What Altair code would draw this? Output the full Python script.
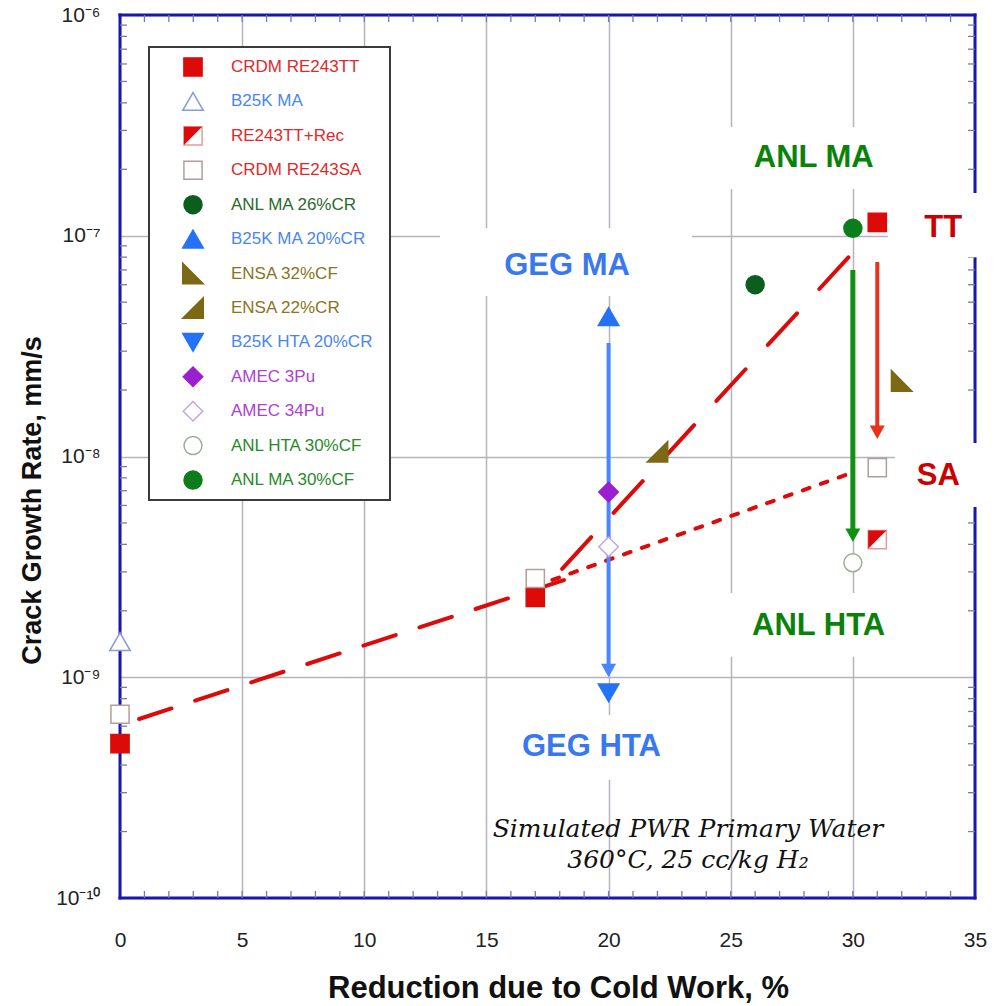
import json
import altair as alt
import pandas as pd

# ---------------------------------------------------------------- data ----
series = [
    "CRDM RE243TT", "CRDM RE243TT", "CRDM RE243TT",
    "B25K MA",
    "RE243TT+Rec",
    "CRDM RE243SA", "CRDM RE243SA", "CRDM RE243SA",
    "ANL MA 26%CR",
    "B25K MA 20%CR",
    "ENSA 32%CF",
    "ENSA 22%CR",
    "B25K HTA 20%CR",
    "AMEC 3Pu",
    "AMEC 34Pu",
    "ANL HTA 30%CF",
    "ANL MA 30%CF",
]
cold_work = [0, 17, 31, 0, 31, 0, 17, 31, 26, 20, 32, 22, 20, 20, 20, 30, 30]
cgr = [5.0e-10, 2.3e-9, 1.15e-7, 1.45e-9, 4.2e-9, 6.8e-10, 2.8e-9, 8.9e-9,
       6.0e-8, 4.3e-8, 2.2e-8, 1.05e-8, 8.5e-10, 6.9e-9, 3.9e-9, 3.3e-9, 1.08e-7]

legend_order = [
    "CRDM RE243TT", "B25K MA", "RE243TT+Rec", "CRDM RE243SA", "ANL MA 26%CR",
    "B25K MA 20%CR", "ENSA 32%CF", "ENSA 22%CR", "B25K HTA 20%CR",
    "AMEC 3Pu", "AMEC 34Pu", "ANL HTA 30%CF", "ANL MA 30%CF",
]

# trend lines (two end points each)
trend_cw_x = [0.78, 18.2]
trend_cw_y = [6.47e-10, 2.76e-9]
trend_tt_x = [18.1, 30.0]
trend_tt_y = [3.1e-9, 8.4e-8]
trend_sa_x = [17.7, 29.7]
trend_sa_y = [2.76e-9, 8.24e-9]

# arrows: from (no head) -> to (head)
arrow_name = ["GEG", "ANL", "CRDM"]
arrow_x = [20, 30, 31]
arrow_from = [3.27e-8, 7.0e-8, 7.6e-8]
arrow_to = [1.0e-9, 4.1e-9, 1.2e-8]

# callout labels
label_text = ["GEG MA", "GEG HTA", "ANL MA", "ANL HTA", "TT", "SA"]
label_x = [18.3, 19.3, 28.4, 28.6, 33.7, 33.5]
label_y = [7.3e-8, 4.83e-10, 2.25e-7, 1.7e-9, 1.08e-7, 8.2e-9]
# white backing boxes behind the callouts
box_x0 = [13.1, 15.55, 23.74, 24.36, 31.44, 31.72]
box_x1 = [23.41, 23.33, 32.95, 32.13, 36.1, 36.1]
box_y0 = [1.08e-7, 6.75e-10, 3.11e-7, 2.41e-9, 1.56e-7, 1.15e-8]
box_y1 = [5.33e-8, 3.43e-10, 1.63e-7, 1.24e-9, 8.0e-8, 5.9e-9]

note_text = ["Simulated PWR Primary Water", "360°C, 25 cc/kg H₂"]
note_x = [23.25, 23.25]
note_y = [1.89e-10, 1.37e-10]

x_ticks = [0, 5, 10, 15, 20, 25, 30, 35]
y_ticks = [1e-10, 1e-9, 1e-8, 1e-7, 1e-6]
y_tick_labels = ["10⁻¹⁰", "10⁻⁹", "10⁻⁸", "10⁻⁷", "10⁻⁶"]

# --------------------------------------------------------------- style ----
W, H = 855, 883
FRAME = "#1818b0"
GRID = "#b4b4bc"
TICK = "#7a7aa6"
RED = "#dd0a0a"
BLUE = "#2472f5"
SANS = "Liberation Sans, Arial, sans-serif"

TRI_LL = "M-1,-1L-1,1L1,1Z"     # right angle bottom-left
TRI_LR = "M-1,1L1,1L1,-1Z"      # right angle bottom-right
HALF_SQ = "M-1,-1L1,-1L-1,1Z"   # upper-left half of a square
HEAD = "M-1,-0.9L1,-0.9L0,0.9Z"

marker_style = {
    "CRDM RE243TT":   ("square", RED, RED, 330, None, "#e02a2a"),
    "B25K MA":        ("triangle-up", "white", "#8a9cd0", 420, None, "#4a86f0"),
    "RE243TT+Rec":    ("square", "white", "#e89a9a", 330, HALF_SQ, "#e02a2a"),
    "CRDM RE243SA":   ("square", "white", "#b49c9c", 330, None, "#e02a2a"),
    "ANL MA 26%CR":   ("circle", "#0b5e1e", "#0b5e1e", 324, None, "#2a6a2a"),
    "B25K MA 20%CR":  ("triangle-up", BLUE, BLUE, 420, None, "#4a86f0"),
    "ENSA 32%CF":     (TRI_LL, "#7d6814", "#7d6814", 420, None, "#8a7420"),
    "ENSA 22%CR":     (TRI_LR, "#7d6814", "#7d6814", 420, None, "#8a7420"),
    "B25K HTA 20%CR": ("triangle-down", BLUE, BLUE, 420, None, "#4a86f0"),
    "AMEC 3Pu":       ("diamond", "#9b1fd1", "#9b1fd1", 380, None, "#b040d0"),
    "AMEC 34Pu":      ("diamond", "white", "#c4a6e0", 380, None, "#b040d0"),
    "ANL HTA 30%CF":  ("circle", "white", "#98ae98", 324, None, "#2a8a2a"),
    "ANL MA 30%CF":   ("circle", "#0d7d1b", "#0d7d1b", 324, None, "#2a8a2a"),
}
arrow_style = {"GEG": ("#4a86ff", 4), "ANL": ("#109010", 5), "CRDM": ("#e8321a", 4)}
label_color = {"GEG MA": "#3a78f0", "GEG HTA": "#3a78f0", "ANL MA": "#0a820a",
               "ANL HTA": "#0a820a", "TT": "#cc0000", "SA": "#cc0000"}


def style_frame(names):
    return pd.DataFrame({
        "shape": [marker_style[n][0] for n in names],
        "fill": [marker_style[n][1] for n in names],
        "stroke": [marker_style[n][2] for n in names],
        "size": [marker_style[n][3] for n in names],
        "overlay": [marker_style[n][4] for n in names],
        "label_color": [marker_style[n][5] for n in names],
    })


points = pd.concat([pd.DataFrame({"series": series, "x": cold_work, "y": cgr}),
                    style_frame(series)], axis=1)
legend_df = pd.concat([pd.DataFrame({"label": legend_order,
                                     "row": list(range(len(legend_order)))}),
                       style_frame(legend_order)], axis=1)

xs = alt.Scale(domain=[0, 35], nice=False, zero=False)
ys = alt.Scale(type="log", domain=[1e-10, 1e-6], nice=False)

x_axis = alt.Axis(
    values=x_ticks, title="Reduction due to Cold Work, %", grid=True,
    gridColor=GRID, gridWidth=1.5, ticks=False, tickSize=0, domain=False,
    labelFont=SANS, labelFontSize=21, labelColor="#222", labelPadding=42,
    labelBaseline="middle", labelFlush=False,
    titleFont=SANS, titleFontSize=31, titleFontWeight="bold", titleColor="#111",
    titleX=438, titleY=99, titleBaseline="alphabetic",
)
y_axis = alt.Axis(
    values=y_ticks, title="Crack Growth Rate, mm/s", grid=True,
    gridColor=GRID, gridWidth=1.5, ticks=False, tickSize=0, domain=False,
    labelFont=SANS, labelFontSize=21, labelColor="#222", labelPadding=20,
    labelBaseline="middle", labelFlush=False, labelOverlap=False,
    labelExpr=json.dumps(y_tick_labels, ensure_ascii=False)
    + "[round(log(datum.value)/LN10)+10]",
    titleFont=SANS, titleFontSize=27, titleFontWeight="bold", titleColor="#111",
    titleAngle=270, titleX=-88, titleY=485, titleBaseline="middle",
)


# every layer on the shared scales carries the same axis definition
def X(field):
    return alt.X(field, scale=xs, axis=x_axis)


def Y(field):
    return alt.Y(field, scale=ys, axis=y_axis)


one = pd.DataFrame({"k": [0]})

# ------------------------------------------------------ frame and ticks ----
def frame_rule(**enc):
    return alt.Chart(one).mark_rule(color=FRAME, strokeWidth=3,
                                    strokeCap="square").encode(**enc)


frame = alt.layer(
    frame_rule(x=alt.value(0), x2=alt.value(W), y=alt.value(0)),
    frame_rule(x=alt.value(0), x2=alt.value(W), y=alt.value(H)),
    frame_rule(x=alt.value(0), y=alt.value(0), y2=alt.value(H)),
    frame_rule(x=alt.value(W), y=alt.value(0), y2=alt.value(H)),
)

minor_y = pd.DataFrame({"y": [k * 10.0 ** e for e in range(-10, -6) for k in range(2, 10)]})
minor_x = pd.DataFrame({"x": list(range(1, 35))})
tick_len = 7
ticks = alt.layer(
    alt.Chart(minor_y).mark_rule(color=TICK, strokeWidth=1.3).encode(
        y=Y("y:Q"), x=alt.value(0), x2=alt.value(tick_len)),
    alt.Chart(minor_y).mark_rule(color=TICK, strokeWidth=1.3).encode(
        y=Y("y:Q"), x=alt.value(W - tick_len), x2=alt.value(W)),
    alt.Chart(minor_x).mark_rule(color=TICK, strokeWidth=1.3).encode(
        x=X("x:Q"), y=alt.value(H - tick_len), y2=alt.value(H)),
    alt.Chart(minor_x).mark_rule(color=TICK, strokeWidth=1.3).encode(
        x=X("x:Q"), y=alt.value(0), y2=alt.value(tick_len)),
)

# ------------------------------------------------------- callout boxes ----
boxes_df = pd.DataFrame({"x0": box_x0, "x1": box_x1, "y0": box_y0, "y1": box_y1})
boxes = alt.Chart(boxes_df).mark_rect(fill="white").encode(
    x=X("x0:Q"), x2="x1:Q", y=Y("y0:Q"), y2="y1:Q",
)


# --------------------------------------------------------- trend lines ----
def trend(xv, yv, dash):
    df = pd.DataFrame({"x": xv, "y": yv})
    return alt.Chart(df).mark_line(color=RED, strokeWidth=4, strokeDash=dash,
                                   strokeCap="round").encode(x=X("x:Q"), y=Y("y:Q"))


trends = alt.layer(
    trend(trend_cw_x, trend_cw_y, [34, 25]),
    trend(trend_tt_x, trend_tt_y, [43, 33]),
    trend(trend_sa_x, trend_sa_y, [7, 12]),
)

# -------------------------------------------------------------- arrows ----
arrows_df = pd.DataFrame({
    "x": arrow_x, "y0": arrow_from, "y1": arrow_to,
    "color": [arrow_style[a][0] for a in arrow_name],
    "w": [arrow_style[a][1] for a in arrow_name],
})
shafts = alt.Chart(arrows_df).mark_rule(y2Offset=-8).encode(
    x=X("x:Q"), y=Y("y0:Q"), y2="y1:Q",
    color=alt.Color("color:N", scale=None),
    strokeWidth=alt.StrokeWidth("w:Q", scale=None),
)
heads = alt.Chart(arrows_df).mark_point(shape=HEAD, filled=True, opacity=1,
                                        size=225, yOffset=-6.75).encode(
    x=X("x:Q"), y=Y("y1:Q"),
    fill=alt.Fill("color:N", scale=None),
)

# ------------------------------------------------------------- markers ----
markers = alt.Chart(points).mark_point(filled=True, opacity=1, strokeWidth=1.5).encode(
    x=X("x:Q"), y=Y("y:Q"),
    shape=alt.Shape("shape:N", scale=None),
    fill=alt.Fill("fill:N", scale=None),
    stroke=alt.Stroke("stroke:N", scale=None),
    size=alt.Size("size:Q", scale=None),
)
marker_half = alt.Chart(points).transform_filter("datum.overlay != null").mark_point(
    filled=True, opacity=1, color=RED, strokeWidth=0).encode(
    x=X("x:Q"), y=Y("y:Q"),
    shape=alt.Shape("overlay:N", scale=None),
    size=alt.Size("size:Q", scale=None),
)

# -------------------------------------------------------------- labels ----
labels_df = pd.DataFrame({"text": label_text, "x": label_x, "y": label_y,
                          "color": [label_color[t] for t in label_text]})
labels = alt.Chart(labels_df).mark_text(font=SANS, fontWeight="bold", fontSize=31,
                                        align="center", baseline="middle").encode(
    x=X("x:Q"), y=Y("y:Q"), text="text:N",
    color=alt.Color("color:N", scale=None),
)

note_df = pd.DataFrame({"text": note_text, "x": note_x, "y": note_y})
note = alt.Chart(note_df).mark_text(font="DejaVu Serif", fontStyle="italic", fontSize=25,
                                    align="center", baseline="alphabetic",
                                    color="#111").encode(
    x=X("x:Q"), y=Y("y:Q"), text="text:N",
)

# -------------------------------------------------------------- legend ----
LEG_ROW0, LEG_STEP, LEG_SYM_X, LEG_TXT_X = 52, 34.42, 73, 111
leg_base = alt.Chart(legend_df).transform_calculate(
    ly=f"{LEG_ROW0} + datum.row * {LEG_STEP}")
legend_box = alt.Chart(one).mark_rect(fill="white", stroke="#3a3a3a", strokeWidth=2).encode(
    x=alt.value(29), x2=alt.value(270), y=alt.value(32), y2=alt.value(485))
legend_sym = leg_base.mark_point(filled=True, opacity=1, strokeWidth=1.5).encode(
    x=alt.value(LEG_SYM_X),
    y=alt.Y("ly:Q", scale=None, axis=None),
    shape=alt.Shape("shape:N", scale=None),
    fill=alt.Fill("fill:N", scale=None),
    stroke=alt.Stroke("stroke:N", scale=None),
    size=alt.Size("size:Q", scale=None),
)
legend_half = leg_base.transform_filter("datum.overlay != null").mark_point(
    filled=True, opacity=1, color=RED, strokeWidth=0).encode(
    x=alt.value(LEG_SYM_X),
    y=alt.Y("ly:Q", scale=None, axis=None),
    shape=alt.Shape("overlay:N", scale=None),
    size=alt.Size("size:Q", scale=None),
)
legend_txt = leg_base.mark_text(font=SANS, fontSize=17, align="left",
                                baseline="middle").encode(
    x=alt.value(LEG_TXT_X),
    y=alt.Y("ly:Q", scale=None, axis=None),
    text="label:N",
    color=alt.Color("label_color:N", scale=None),
)

chart = alt.layer(
    frame, ticks, boxes, trends, shafts, heads, markers, marker_half,
    labels, note, legend_box, legend_sym, legend_half, legend_txt,
).properties(
    width=W, height=H,
    autosize=alt.AutoSizeParams(type="none"),
    padding={"left": 120, "top": 15, "right": 27, "bottom": 108},
    background="white",
).configure_view(strokeWidth=0)

chart.save("out.html", embed_options={"renderer": "svg", "actions": False})
